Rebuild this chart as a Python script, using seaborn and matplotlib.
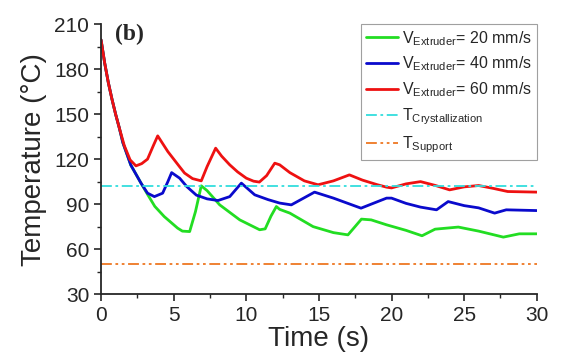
import matplotlib
matplotlib.use("Agg")
import matplotlib.pyplot as plt
import pandas as pd
import seaborn as sns
from matplotlib.ticker import MultipleLocator

# values
time_20 = [0, 0.25, 0.5, 0.75, 1.0, 1.25, 1.5, 2.05, 2.75, 3.2, 3.7, 4.35, 5.27, 5.6, 6.1, 6.5, 6.9,
           7.3, 8.17, 9.55, 10.92, 11.3, 11.7, 12.07, 12.3, 13.0, 14.6, 16.0, 17.0, 17.4, 17.93,
           18.6, 19.66, 21.0, 22.1, 23.0, 24.6, 26.0, 27.7, 28.8, 30.0]
temp_20 = [199.5, 184, 171, 160, 150, 141, 131, 116, 104, 96.5, 88.5, 81.7, 74, 72, 71.7, 85, 102.2,
           99, 89.5, 79.5, 72.9, 73.5, 82, 88.4, 86.5, 84, 75, 71, 69.5, 74, 80,
           79.5, 76.2, 72.5, 68.9, 73.3, 74.7, 72, 68, 70.2, 70.2]

time_40 = [0, 0.25, 0.5, 0.75, 1.0, 1.25, 1.5, 2.05, 2.75, 3.2, 3.67, 4.24, 4.6, 4.86, 5.41, 5.9,
           6.56, 7.3, 8.05, 8.86, 9.66, 10.58, 11.5, 12.3, 13.1, 14.7, 16.0, 17.9, 19.0, 19.66,
           20.0, 21.0, 22.0, 23.1, 23.9, 25.0, 26.0, 27.1, 27.9, 30.0]
temp_40 = [199.5, 184, 171, 160, 150, 141, 131, 116, 104, 97.3, 95, 97.3, 105, 111, 107.3, 101.7,
           96, 93.5, 92.4, 95, 104, 96.2, 93, 90.7, 89.5, 98, 94, 87.3, 91.5, 94,
           94, 90.5, 88, 86.2, 91.7, 89, 87.5, 84, 86.2, 85.7]

time_60 = [0, 0.25, 0.5, 0.75, 1.0, 1.25, 1.6, 2.0, 2.4, 2.8, 3.2, 3.6, 3.9, 4.2, 4.6, 5.0, 5.4,
           5.75, 6.3, 6.9, 7.3, 7.89, 8.3, 8.86, 9.4, 10.0, 10.5, 10.9, 11.4, 11.96, 12.3, 13.0,
           14.0, 14.94, 16.0, 17.1, 18.0, 19.0, 19.66, 20.0, 21.0, 22.0, 23.0, 24.0, 25.0, 26.0,
           27.0, 28.0, 30.0]
temp_60 = [199.5, 184, 171, 160, 150, 141, 129, 119.5, 115.5, 117, 120, 129, 135.5, 131, 125, 120, 115,
           110.7, 107, 105.5, 115, 127.3, 122, 116.2, 111.5, 107.3, 105.3, 104.7, 109, 117.3, 116.2, 111,
           105.5, 102.9, 105.5, 109.5, 106, 103, 101.3, 100.8, 103.5, 105, 102.5, 99.5, 101.5, 102.4,
           100.5, 98.4, 98]

t_crystallization = 102
t_support = 50

labels = [r"$\mathregular{V_{Extruder}}$= 20 mm/s",
          r"$\mathregular{V_{Extruder}}$= 40 mm/s",
          r"$\mathregular{V_{Extruder}}$= 60 mm/s"]
colors = ["#22dd22", "#0a0acc", "#ee1111"]

frames = []
for t, v, lab in zip([time_20, time_40, time_60], [temp_20, temp_40, temp_60], labels):
    frames.append(pd.DataFrame({"time": t, "temp": v, "series": lab}))
df = pd.concat(frames, ignore_index=True)

sns.set_style("ticks")
plt.rcParams["font.family"] = ["Liberation Sans", "DejaVu Sans"]
plt.rcParams["mathtext.fontset"] = "custom"
plt.rcParams["mathtext.rm"] = "Liberation Sans"

fig = plt.figure(figsize=(5.71, 3.6), dpi=100)
ax = fig.add_axes([0.177, 0.183, 0.763, 0.750])

sns.lineplot(data=df, x="time", y="temp", hue="series", palette=colors,
             hue_order=labels, linewidth=2, ax=ax, sort=False)
ax.axhline(t_crystallization, color="#33dddd", linestyle=(0, (6, 2, 1.5, 2)), linewidth=1.3,
           label=r"$\mathregular{T_{Crystallization}}$")
ax.axhline(t_support, color="#ee7722", linestyle=(0, (6, 2, 1.5, 2, 1.5, 2)), linewidth=1.3,
           label=r"$\mathregular{T_{Support}}$")

ax.set_xlim(0, 30)
ax.set_ylim(30, 210)
ax.xaxis.set_major_locator(MultipleLocator(5))
ax.xaxis.set_minor_locator(MultipleLocator(2.5))
ax.yaxis.set_major_locator(MultipleLocator(30))
ax.yaxis.set_minor_locator(MultipleLocator(15))
ax.tick_params(axis="both", which="major", labelsize=15, length=5, width=1.2, direction="out")
ax.tick_params(axis="both", which="minor", length=3, width=1.0, direction="out")
for s in ["left", "bottom"]:
    ax.spines[s].set_linewidth(1.3)
sns.despine(ax=ax)

ax.set_xlabel("Time (s)", fontsize=20, labelpad=1)
ax.set_ylabel("Temperature (°C)", fontsize=20, labelpad=5)

ax.text(0.032, 1.0, "(b)", transform=ax.transAxes, fontsize=17, fontweight="bold",
        family="Liberation Serif", va="top", ha="left")

leg = ax.legend(loc="upper right", bbox_to_anchor=(1.0, 1.0), borderaxespad=0, fontsize=11.5,
                frameon=True, fancybox=False, handlelength=2.0, handletextpad=0.25,
                borderpad=0.3, labelspacing=0.45)
leg.get_frame().set_edgecolor("#888888")
leg.get_frame().set_linewidth(0.8)

fig.savefig("out.png", dpi=100)
